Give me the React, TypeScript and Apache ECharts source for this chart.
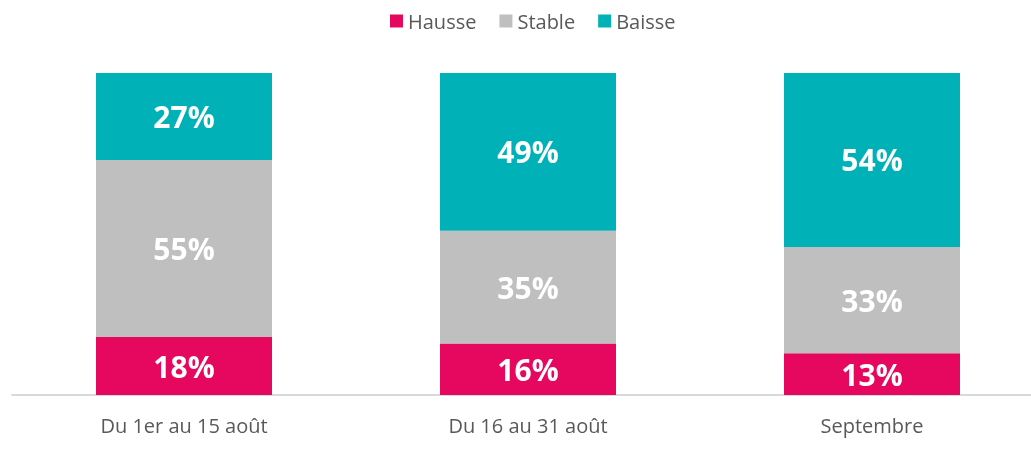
import React, { useEffect, useRef } from "react";
import * as echarts from "echarts";

const categories = ["Du 1er au 15 août", "Du 16 au 31 août", "Septembre"];
const hausse = [18, 16, 13];
const stable = [55, 35, 33];
const baisse = [27, 49, 54];

const FONT = "'Open Sans', sans-serif";

export default function App() {
  const ref = useRef<HTMLDivElement>(null);
  useEffect(() => {
    if (!ref.current) return;
    const chart = echarts.init(ref.current, null, { renderer: "svg" });
    const label = {
      show: true,
      position: "inside",
      color: "#ffffff",
      fontWeight: "bold",
      fontSize: 30,
      fontFamily: FONT,
      formatter: (p: any) => p.value + "%",
    };
    const mk = (name: string, data: number[], color: string) => ({
      name,
      type: "bar",
      stack: "total",
      data,
      barWidth: 176,
      itemStyle: { color },
      label,
    });
    chart.setOption({
      animation: false,
      textStyle: { fontFamily: FONT },
      legend: {
        top: 6,
        left: 385,
        itemWidth: 13,
        itemHeight: 13,
        itemGap: 23,
        icon: "rect",
        textStyle: { fontSize: 20, color: "#595959", fontFamily: FONT },
        data: ["Hausse", "Stable", "Baisse"],
      },
      grid: { left: 12, top: 73, width: 1032, bottom: 58, containLabel: false },
      xAxis: {
        type: "category",
        data: categories,
        axisLine: { lineStyle: { color: "#d9d9d9", width: 2 } },
        axisTick: { show: false },
        axisLabel: { fontSize: 20, color: "#595959", margin: 20, fontFamily: FONT },
      },
      yAxis: { type: "value", min: 0, max: 100, show: false, splitLine: { show: false } },
      series: [
        mk("Hausse", hausse, "#e6075e"),
        mk("Stable", stable, "#bfbfbf"),
        mk("Baisse", baisse, "#00b2b8"),
      ],
    });
    return () => chart.dispose();
  }, []);
  return <div ref={ref} style={{ position: "fixed", left: 0, top: 0, width: 1076, height: 453 }} />;
}
